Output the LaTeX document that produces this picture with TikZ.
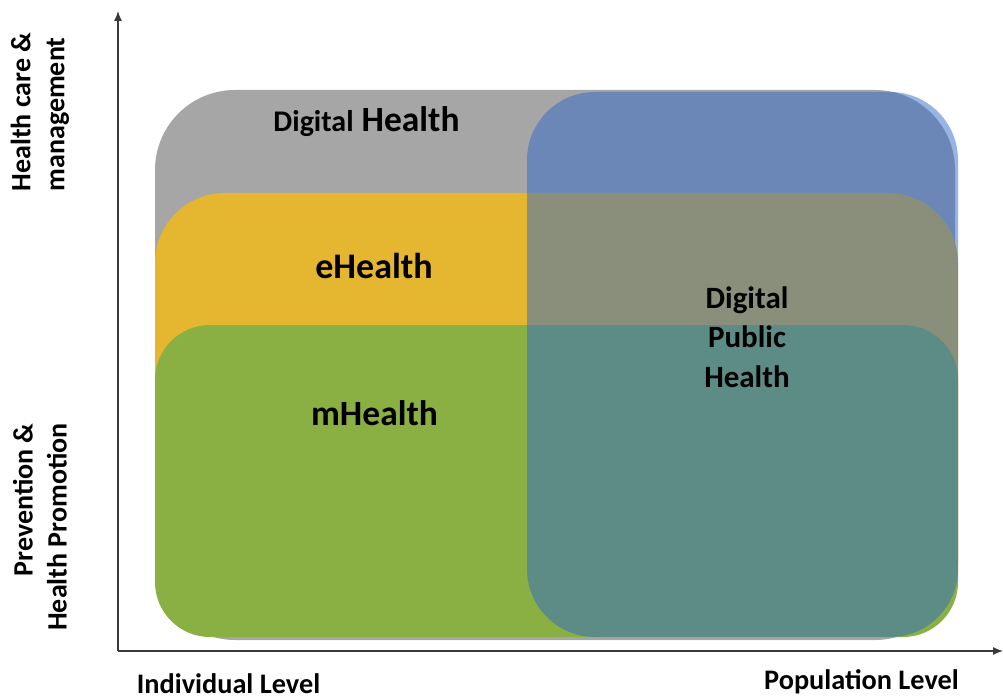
\documentclass[tikz,border=0pt]{standalone}
\usepackage{fontspec}
\setmainfont{Carlito}
\usetikzlibrary{arrows.meta, positioning}
\definecolor{dhgray}{HTML}{A6A6A6}
\definecolor{ehyellow}{HTML}{E5B62F}
\definecolor{mhgreen}{HTML}{8AAF43}
\definecolor{dphblue}{HTML}{3169CA}
\definecolor{axgray}{HTML}{3A3A3A}
\tikzstyle{area} = [rectangle, inner sep=0pt, draw=none]
\tikzstyle{tag} = [font=\bfseries, text=black, inner sep=0pt]
\tikzstyle{side} = [tag, font=\bfseries\fontsize{28}{34}\selectfont, rotate=90]
\tikzstyle{level} = [tag, font=\bfseries\fontsize{28.3}{32}\selectfont, anchor=base]
\tikzstyle{axis} = [line width=1.3pt, draw=axgray, -{Latex[length=10pt,width=8pt]}]

\begin{document}
\begin{tikzpicture}[x=1pt, y=-1pt, align=center]
  \useasboundingbox (0,0) rectangle (1003,700);
  % the four fields
  \node (dh) [area, fill=dhgray, minimum width=800pt, minimum height=550pt, rounded corners=80pt] at (555,365) {};
  \node (eh) [area, fill=ehyellow, minimum width=803pt, minimum height=439pt, rounded corners=70pt] at (556.5,412.5) {};
  \node (mh) [area, fill=mhgreen, minimum width=803pt, minimum height=312pt, rounded corners=55pt] at (556.5,481) {};
  \node (dph) [area, fill=dphblue, fill opacity=0.5, minimum width=431pt, minimum height=545pt, rounded corners=68pt] at (742.5,364.5) {};
  % labels
  \node (dhtxt) [tag] at (366.5,122) {\fontsize{30}{34}\selectfont Digital\fontsize{35.5}{40}\selectfont{} Health};
  \node (ehtxt) [tag, font=\bfseries\fontsize{36}{40}\selectfont] at (374,266) {eHealth};
  \node (mhtxt) [tag, font=\bfseries\fontsize{35.5}{40}\selectfont] at (374.5,413) {mHealth};
  \node (dphtxt) [tag, font=\bfseries\fontsize{31}{39.5}\selectfont] at (747,337) {Digital\\Public\\Health};
  % axes
  \coordinate (origin) at (118,651);
  \coordinate (ytip) at (118,11);
  \coordinate (xtip) at (1003,651);
  \draw [axis] (origin) -- (ytip);
  \draw [axis] (origin) -- (xtip);
  \node (indiv) [level] at (228.5,693) {Individual Level};
  \node (popul) [level] at (861.5,689) {Population Level};
  \node (care) [side, align=left] at (40,112) {Health care \&\\management};
  \node (prev) [side, align=right] at (40,527) {Prevention \&\\Health Promotion};
\end{tikzpicture}
\end{document}
